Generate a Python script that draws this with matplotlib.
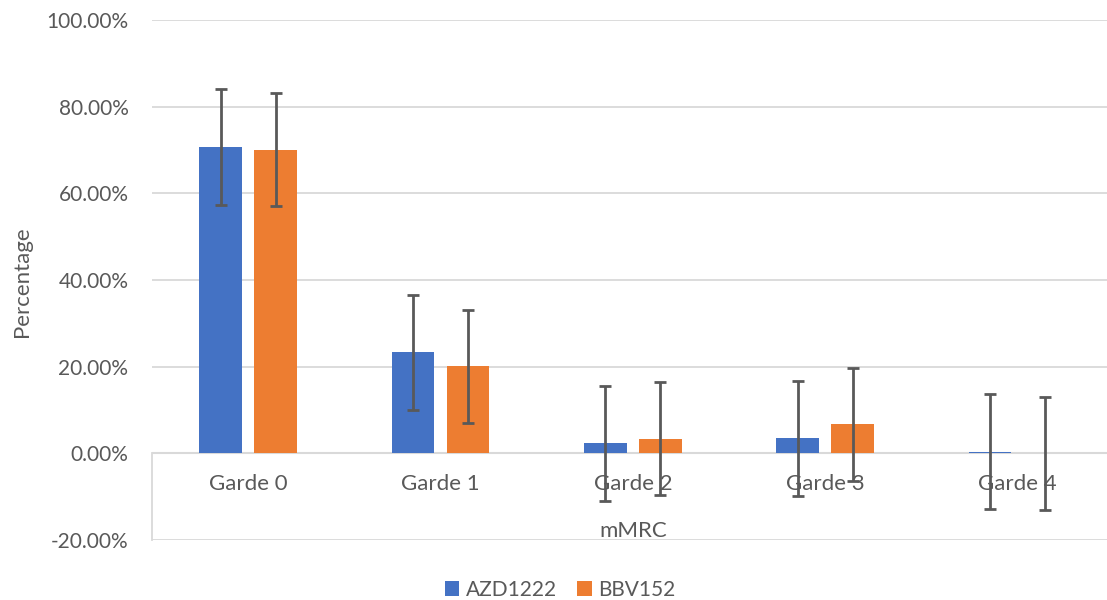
import matplotlib.pyplot as plt
import numpy as np
from matplotlib.ticker import FuncFormatter

categories = ["Garde 0", "Garde 1", "Garde 2", "Garde 3", "Garde 4"]
azd_values = [0.706, 0.233, 0.023, 0.035, 0.004]
azd_errors = [0.134, 0.133, 0.133, 0.133, 0.133]
bbv_values = [0.701, 0.201, 0.034, 0.067, 0.0]
bbv_errors = [0.130, 0.130, 0.130, 0.130, 0.130]

plt.rcParams['font.family'] = ['Lato', 'DejaVu Sans']

fig = plt.figure(figsize=(11.07, 6.0), dpi=100)
ax = fig.add_axes([0.1373, 0.1, 0.8687, 0.8667])

x = np.arange(len(categories))
width = 0.223
offset = 0.143
txt_color = "#595959"

ax.bar(x - offset, azd_values, width, color="#4472C4", label="AZD1222", zorder=2)
ax.bar(x + offset, bbv_values, width, color="#ED7D31", label="BBV152", zorder=2)
ax.errorbar(x - offset, azd_values, yerr=azd_errors, fmt="none", ecolor=txt_color,
            elinewidth=2, capsize=4.3, capthick=2, zorder=3)
ax.errorbar(x + offset, bbv_values, yerr=bbv_errors, fmt="none", ecolor=txt_color,
            elinewidth=2, capsize=4.3, capthick=2, zorder=3)

ax.set_ylim(-0.2, 1.0)
ax.set_xlim(-0.5, 4.5)
ax.set_yticks(np.arange(-0.2, 1.01, 0.2))
ax.yaxis.set_major_formatter(FuncFormatter(lambda v, p: "{:.2f}%".format(v * 100)))
ax.grid(axis="y", color="#D9D9D9", linewidth=1.3, zorder=0)
ax.axhline(0, color="#D9D9D9", linewidth=1.5, zorder=1)
ax.set_axisbelow(True)

for s in ["top", "right", "bottom"]:
    ax.spines[s].set_visible(False)
ax.spines["left"].set_bounds(-0.2, 0)
ax.spines["left"].set_color("#D9D9D9")
ax.spines["left"].set_linewidth(1.3)

ax.tick_params(axis="y", length=0, labelsize=15, labelcolor=txt_color, pad=17)
ax.set_xticks([])

for xi, lab in zip(x, categories):
    ax.annotate(lab, xy=(xi, 0), xytext=(0, -22), textcoords="offset points",
                ha="center", va="center", fontsize=16, color=txt_color, zorder=1)

ax.text(0.5, 0.018, "mMRC", transform=ax.transAxes, ha="center", va="center",
        fontsize=16, color=txt_color)
fig.text(0.02, 0.53, "Percentage", rotation=90, ha="center", va="center",
         fontsize=16, color=txt_color)

fig.legend(loc="center", bbox_to_anchor=(0.506, 0.017), ncol=2, frameon=False,
           fontsize=15, handlelength=0.7, handleheight=0.7, handletextpad=0.3,
           columnspacing=1.0, labelcolor=txt_color)

fig.savefig("out.png", dpi=100)
